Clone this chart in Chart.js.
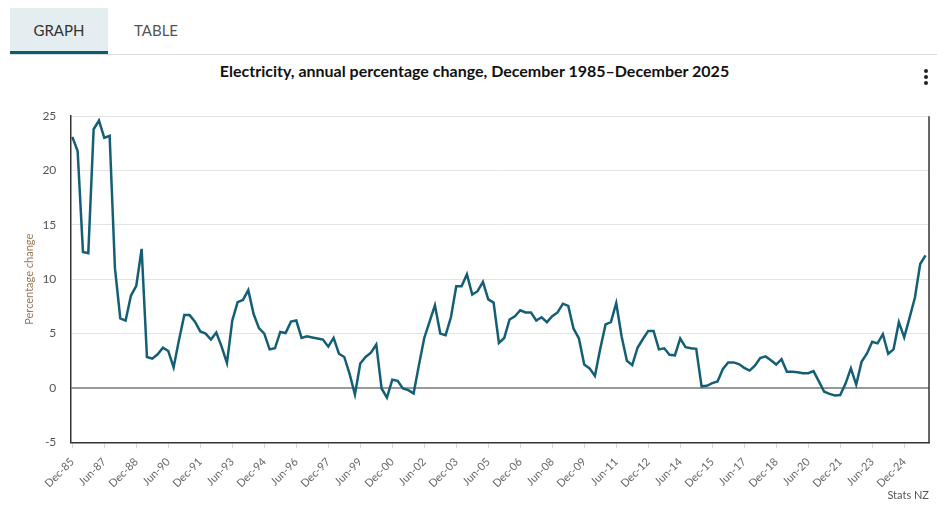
<!DOCTYPE html>
<html>
<head>
<meta charset="utf-8">
<script src="https://cdn.jsdelivr.net/npm/chart.js@4.4.1/dist/chart.umd.min.js"></script>
<style>
  body { margin: 0; background: #fff; font-family: Lato, "Open Sans", sans-serif; }
  #page { position: relative; width: 937px; height: 510px; overflow: hidden; }
  .tab { position: absolute; top: 8px; height: 43px; line-height: 45px; font-size: 15px; text-align: center; }
  #tab-graph { left: 10px; width: 98px; background: #e4edf0; color: #333; border-bottom: 3px solid #0e5a70; }
  #tab-table { left: 120px; width: 72px; color: #555; }
  #tab-line { position: absolute; left: 10px; right: 0; top: 54px; height: 1px; background: #dcdcdc; }
  #title { position: absolute; left: 12px; width: 925px; top: 61px; text-align: center; font-size: 16px; font-weight: bold; color: #111; }
  .dot { position: absolute; left: 924px; width: 4px; height: 4px; border-radius: 2px; background: #222; }
  #box { position: absolute; left: 0; top: 95px; width: 937px; height: 415px; }
  #credit { position: absolute; right: 8px; top: 488px; font-size: 11px; color: #555; }
</style>
</head>
<body>
<div id="page">
  <div class="tab" id="tab-graph">GRAPH</div>
  <div class="tab" id="tab-table">TABLE</div>
  <div id="tab-line"></div>
  <div id="title">Electricity, annual percentage change, December 1985–December 2025</div>
  <div class="dot" style="top:69px"></div>
  <div class="dot" style="top:75px"></div>
  <div class="dot" style="top:81px"></div>
  <div id="box"><canvas id="chart"></canvas></div>
  <div id="credit">Stats NZ</div>
</div>
<script>
// quarterly, Dec-85 .. Dec-25
const electricity = [
  23.1, 21.8, 12.5, 12.4, 23.8, 24.6, 23.0, 23.2, 11.0, 6.4,
  6.2, 8.5, 9.4, 12.8, 2.85, 2.7, 3.1, 3.7, 3.4, 1.9,
  4.4, 6.7, 6.7, 6.1, 5.2, 5.0, 4.45, 5.1, 3.8, 2.3,
  6.2, 7.9, 8.1, 9.0, 6.8, 5.5, 5.0, 3.55, 3.65, 5.15,
  5.05, 6.1, 6.2, 4.6, 4.75, 4.65, 4.55, 4.45, 3.8, 4.6,
  3.15, 2.85, 1.3, -0.6, 2.25, 2.85, 3.25, 4.0, -0.05, -0.9,
  0.75, 0.65, -0.05, -0.2, -0.5, 2.1, 4.6, 6.1, 7.6, 5.0,
  4.85, 6.5, 9.35, 9.35, 10.45, 8.6, 8.9, 9.75, 8.15, 7.85,
  4.15, 4.6, 6.3, 6.6, 7.15, 6.95, 6.95, 6.2, 6.5, 6.05,
  6.6, 6.95, 7.75, 7.55, 5.45, 4.55, 2.15, 1.8, 1.1, 3.6,
  5.85, 6.05, 7.8, 4.75, 2.5, 2.1, 3.7, 4.5, 5.25, 5.25,
  3.55, 3.65, 3.05, 3.0, 4.55, 3.75, 3.65, 3.6, 0.15, 0.2,
  0.45, 0.6, 1.75, 2.35, 2.35, 2.2, 1.85, 1.6, 2.05, 2.75,
  2.9, 2.55, 2.15, 2.65, 1.5, 1.5, 1.45, 1.35, 1.35, 1.55,
  0.6, -0.35, -0.55, -0.7, -0.65, 0.4, 1.8, 0.3, 2.4, 3.15,
  4.25, 4.1, 4.95, 3.15, 3.55, 6.05, 4.65, 6.45, 8.3, 11.4,
  12.2
];

// one label every 6 quarters
const tickLabels = ['Dec-85', 'Jun-87', 'Dec-88', 'Jun-90', 'Dec-91', 'Jun-93', 'Dec-94',
  'Jun-96', 'Dec-97', 'Jun-99', 'Dec-00', 'Jun-02', 'Dec-03', 'Jun-05', 'Dec-06',
  'Jun-08', 'Dec-09', 'Jun-11', 'Dec-12', 'Jun-14', 'Dec-15', 'Jun-17', 'Dec-18',
  'Jun-20', 'Dec-21', 'Jun-23', 'Dec-24'];
const tickStep = 6;
const yTicks = [-5, 0, 5, 10, 15, 20, 25];

Chart.defaults.font.family = 'Lato, "Open Sans", sans-serif';
Chart.defaults.animation = false;

const rightBorder = {
  id: 'rightBorder',
  afterDraw(chart) {
    const a = chart.chartArea, c = chart.ctx;
    c.save();
    c.strokeStyle = '#333';
    c.lineWidth = 1.5;
    c.beginPath();
    c.moveTo(a.right, a.top);
    c.lineTo(a.right, a.bottom);
    c.stroke();
    c.restore();
  }
};

new Chart(document.getElementById('chart'), {
  type: 'line',
  data: {
    datasets: [{
      label: 'Electricity',
      data: electricity.map((v, i) => ({ x: i, y: v })),
      borderColor: '#145f75',
      borderWidth: 2.5,
      pointRadius: 0,
      tension: 0,
      fill: false
    }]
  },
  options: {
    responsive: true,
    maintainAspectRatio: false,
    layout: { padding: { top: 20.7, right: 8, bottom: 0, left: 0 } },
    plugins: { legend: { display: false }, tooltip: { enabled: false } },
    scales: {
      x: {
        type: 'linear',
        min: -0.375,
        max: 160.65,
        afterBuildTicks: s => { s.ticks = tickLabels.map((_, k) => ({ value: k * tickStep })); },
        afterFit: s => { s.height = 67.7; },
        border: { display: true, color: '#333', width: 1.5 },
        grid: { drawOnChartArea: false, drawTicks: true, tickLength: 6, color: '#c8d7ea' },
        ticks: {
          autoSkip: false, maxRotation: 45, minRotation: 45, padding: 7,
          color: '#666', font: { size: 11 },
          callback: (v, idx) => tickLabels[idx]
        }
      },
      y: {
        min: -5,
        max: 25,
        afterBuildTicks: s => { s.ticks = yTicks.map(v => ({ value: v })); },
        afterFit: s => { s.width = 70.3; },
        border: { display: true, color: '#333', width: 1.5 },
        grid: {
          drawTicks: false,
          color: c => c.tick.value === 0 ? '#999' : '#e4e4e4',
          lineWidth: c => c.tick.value === 0 ? 2 : 1
        },
        ticks: { padding: 14, color: '#555', font: { size: 12 } },
        title: {
          display: true, text: 'Percentage change', color: '#9a7758',
          font: { size: 11 }, padding: { top: 23, bottom: 0 }
        }
      }
    }
  },
  plugins: [rightBorder]
});
</script>
</body>
</html>
